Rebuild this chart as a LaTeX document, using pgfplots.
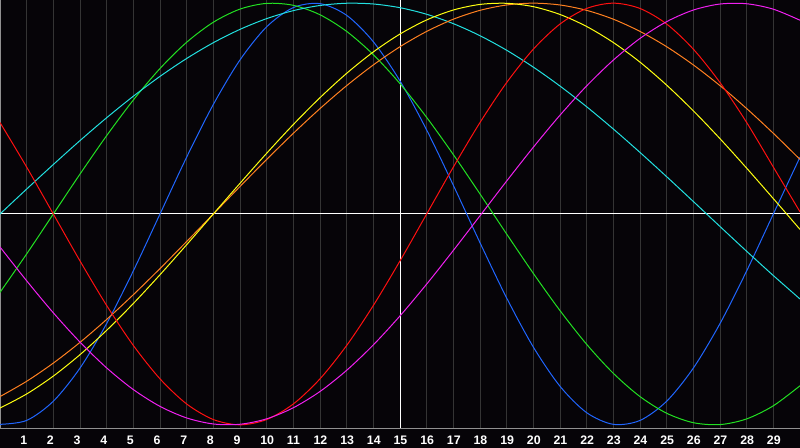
\documentclass[border=0pt]{standalone}
\usepackage{fontspec}
\setmainfont{Liberation Sans}
\usepackage{pgfplots}
\pgfplotsset{compat=1.18}

\definecolor{bg}{HTML}{060408}
\definecolor{gridc}{HTML}{343434}
\definecolor{framec}{HTML}{909090}
\definecolor{cblue}{HTML}{2066FF}
\definecolor{cgreen}{HTML}{22E022}
\definecolor{ccyan}{HTML}{22E0E0}
\definecolor{cred}{HTML}{FF1010}
\definecolor{cmag}{HTML}{F020F0}
\definecolor{cyel}{HTML}{FFFF10}
\definecolor{corange}{HTML}{FF8020}

\begin{document}
\begin{tikzpicture}
\fill[bg] (0,-10bp) rectangle (400bp,214bp);
\begin{axis}[
    at={(0,0)}, anchor=south west,
    scale only axis,
    width=400bp, height=214bp,
    xmin=0, xmax=30,
    ymin=-1.015, ymax=1.015,
    axis line style={draw=framec, line width=0.5bp},
    xtick={1,...,14,16,17,...,29},
    ytick=\empty,
    major tick length=0pt,
    xmajorgrids,
    major grid style={draw=gridc, line width=0.5bp},
    extra x ticks={15},
    extra x tick style={major grid style={draw=white, line width=0.5bp}},
    extra y ticks={0},
    extra y tick labels={},
    extra y tick style={ymajorgrids, major grid style={draw=white, line width=0.5bp}},
    /pgf/number format/assume math mode=true,
    xticklabel style={font=\fontsize{6.2}{7}\selectfont\bfseries, text=white,
        anchor=north west, inner sep=0pt, xshift=-3.4bp, yshift=-3.8bp},
    every axis plot/.append style={line width=0.5bp, smooth, no markers},
    clip=true,
]

% physical, 23 days
\addplot[cblue] coordinates {
(0,-0.9977) (1,-0.9791) (2,-0.8879) (3,-0.7308) (4,-0.5196) (5,-0.2698)
(6,0) (7,0.2698) (8,0.5196) (9,0.7308) (10,0.8879) (11,0.9791)
(12,0.9977) (13,0.9423) (14,0.8170) (15,0.6311) (16,0.3984) (17,0.1362)
(18,-0.1362) (19,-0.3984) (20,-0.6311) (21,-0.8170) (22,-0.9423) (23,-0.9977)
(24,-0.9791) (25,-0.8879) (26,-0.7308) (27,-0.5196) (28,-0.2698) (29,0) (30,0.2698)
};

% intellectual, 33 days
\addplot[cgreen] coordinates {
(0,-0.3717) (1,-0.1893) (2,0) (3,0.1893) (4,0.3717) (5,0.5406)
(6,0.6901) (7,0.8146) (8,0.9096) (9,0.9718) (10,0.9989) (11,0.9898)
(12,0.9450) (13,0.8660) (14,0.7557) (15,0.6182) (16,0.4582) (17,0.2817)
(18,0.0951) (19,-0.0951) (20,-0.2817) (21,-0.4582) (22,-0.6182) (23,-0.7557)
(24,-0.8660) (25,-0.9450) (26,-0.9898) (27,-0.9989) (28,-0.9718) (29,-0.9096) (30,-0.8146)
};

% spiritual, 53 days
\addplot[ccyan] coordinates {
(0,0) (1,0.1183) (2,0.2348) (3,0.3482) (4,0.4566) (5,0.5586)
(6,0.6527) (7,0.7377) (8,0.8125) (9,0.8757) (10,0.9267) (11,0.9646)
(12,0.9890) (13,0.9996) (14,0.9961) (15,0.9785) (16,0.9473) (17,0.9028)
(18,0.8457) (19,0.7766) (20,0.6966) (21,0.6068) (22,0.5086) (23,0.4031)
(24,0.2920) (25,0.1769) (26,0.0593) (27,-0.0593) (28,-0.1769) (29,-0.2920) (30,-0.4031)
};

% awareness, 48 days
\addplot[corange] coordinates {
(0,-0.8660) (1,-0.7934) (2,-0.7071) (3,-0.6088) (4,-0.5) (5,-0.3827)
(6,-0.2588) (7,-0.1305) (8,0) (9,0.1305) (10,0.2588) (11,0.3827)
(12,0.5) (13,0.6088) (14,0.7071) (15,0.7934) (16,0.8660) (17,0.9239)
(18,0.9659) (19,0.9914) (20,1) (21,0.9914) (22,0.9659) (23,0.9239)
(24,0.8660) (25,0.7934) (26,0.7071) (27,0.6088) (28,0.5) (29,0.3827) (30,0.2588)
};

% aesthetic, 43 days
\addplot[cyel] coordinates {
(0,-0.9204) (1,-0.8536) (2,-0.7687) (3,-0.6672) (4,-0.5517) (5,-0.4245)
(6,-0.2881) (7,-0.1456) (8,0) (9,0.1456) (10,0.2881) (11,0.4245)
(12,0.5517) (13,0.6672) (14,0.7687) (15,0.8536) (16,0.9204) (17,0.9675)
(18,0.9940) (19,0.9993) (20,0.9834) (21,0.9464) (22,0.8893) (23,0.8133)
(24,0.7203) (25,0.6111) (26,0.4894) (27,0.3572) (28,0.2174) (29,0.0730) (30,-0.0730)
};

% emotional, 28 days
\addplot[cred] coordinates {
(0,0.4339) (1,0.2225) (2,0) (3,-0.2225) (4,-0.4339) (5,-0.6235)
(6,-0.7818) (7,-0.9010) (8,-0.9749) (9,-1) (10,-0.9749) (11,-0.9010)
(12,-0.7818) (13,-0.6235) (14,-0.4339) (15,-0.2225) (16,0) (17,0.2225)
(18,0.4339) (19,0.6235) (20,0.7818) (21,0.9010) (22,0.9749) (23,1)
(24,0.9749) (25,0.9010) (26,0.7818) (27,0.6235) (28,0.4339) (29,0.2225) (30,0.01)
};

% intuitive, 38 days
\addplot[cmag] coordinates {
(0,-0.1564) (1,-0.3168) (2,-0.4687) (3,-0.6076) (4,-0.7300) (5,-0.8327)
(6,-0.9124) (7,-0.9673) (8,-0.9959) (9,-0.9972) (10,-0.9714) (11,-0.9190)
(12,-0.8418) (13,-0.7413) (14,-0.6208) (15,-0.4833) (16,-0.3325) (17,-0.1728)
(18,-0.0083) (19,0.1564) (20,0.3168) (21,0.4687) (22,0.6076) (23,0.7300)
(24,0.8327) (25,0.9124) (26,0.9673) (27,0.9959) (28,0.9972) (29,0.9714) (30,0.9190)
};

\end{axis}
\pgfresetboundingbox
\path (0,-10bp) rectangle (400bp,214bp);
\end{tikzpicture}
\end{document}
